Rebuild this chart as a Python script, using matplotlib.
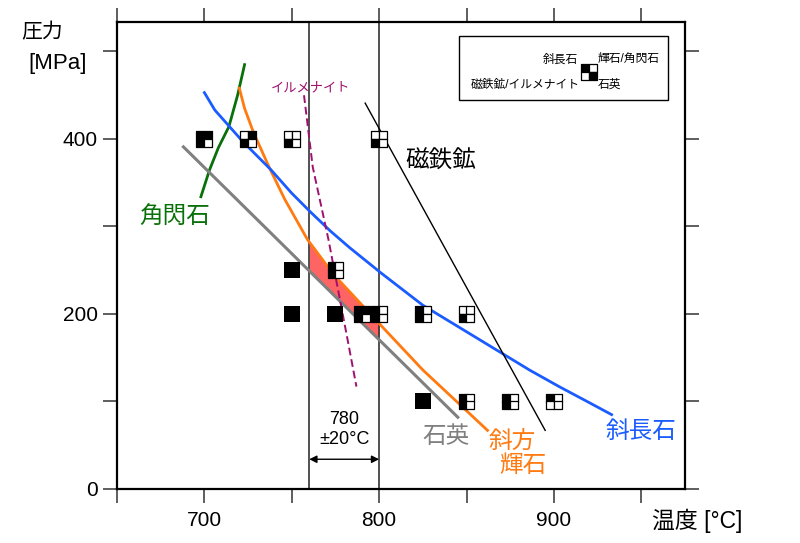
import matplotlib
matplotlib.use("Agg")
import matplotlib.pyplot as plt
import matplotlib.transforms as mtransforms
from matplotlib.patches import Rectangle
import numpy as np

plt.rcParams['font.family'] = ['Liberation Sans', 'Noto Sans CJK JP', 'DejaVu Sans']

# ---- data ----
# phase boundary curves (temperature degC, pressure MPa)
hbl_x = [698, 703, 708, 714, 719, 723]
hbl_y = [334, 365, 390, 414, 450, 485]
opx_x = [720, 723, 728, 737, 746, 759, 774, 801, 825, 862]
opx_y = [458, 435, 408, 368, 331, 285, 245, 187, 136, 67]
plag_x = [700, 706, 722, 738, 750, 761, 772, 783, 801, 825, 858, 886, 903, 919, 933]
plag_y = [453, 433, 397, 365, 338, 316, 295, 276, 247, 210, 170, 136, 117, 100, 85]
qtz_x = [688, 845]
qtz_y = [391, 82]
mt_x = [792, 895]
mt_y = [441, 67]
ilm_x = [757, 762, 771, 782, 787]
ilm_y = [450, 368, 285, 170, 117]

# experiments: T, P, and phases present [plag, px/hbl, mt/ilm, qtz]
exp_T = [700, 725, 750, 800, 750, 775, 750, 775, 790, 800, 825, 850, 825, 850, 875, 900]
exp_P = [400, 400, 400, 400, 250, 250, 200, 200, 200, 200, 200, 200, 100, 100, 100, 100]
exp_phases = [
    [1, 1, 1, 0], [0, 1, 1, 0], [0, 0, 1, 0], [0, 0, 1, 0],
    [1, 1, 1, 1], [1, 0, 1, 0],
    [1, 1, 1, 1], [1, 1, 1, 1], [1, 1, 1, 0], [1, 0, 1, 0], [1, 0, 1, 0], [0, 0, 1, 0],
    [1, 1, 1, 1], [1, 0, 1, 0], [1, 0, 1, 0], [1, 0, 0, 0],
]

T_range = [760, 800]
x_ticks = [650, 700, 750, 800, 850, 900, 950]
x_ticklabels = ['', '700', '', '800', '', '900', '']
y_ticks = [0, 100, 200, 300, 400, 500]
y_ticklabels = ['0', '', '200', '', '400', '']

# ---- figure ----
fig = plt.figure(figsize=(8.0, 5.43), dpi=100)
ax = fig.add_axes([117/800, 1-489/543, (685-117)/800, (489-22)/543])
ax.set_xlim(650, 975)
ax.set_ylim(0, 533.7)

for s in ax.spines.values():
    s.set_linewidth(1.6)
    s.set_color('black')
ax.set_xticks(x_ticks)
ax.set_xticklabels(x_ticklabels)
ax.set_yticks(y_ticks)
ax.set_yticklabels(y_ticklabels)
ax.tick_params(direction='out', length=10, width=1.1, color='#333333',
               top=True, right=True, labelsize=15, pad=6)
ax.tick_params(axis='y', pad=4)

# vertical range lines
for t in T_range:
    ax.axvline(t, color='#333333', lw=1.2, zorder=2)

# red area between quartz and opx curves in the range
xf = np.linspace(T_range[0], T_range[1], 60)
ax.fill_between(xf, np.interp(xf, qtz_x, qtz_y), np.interp(xf, opx_x, opx_y),
                color='#ff6464', lw=0, zorder=1)

ax.plot(hbl_x, hbl_y, color='#0a700a', lw=2, zorder=3)
ax.plot(opx_x, opx_y, color='#ff7a10', lw=2, zorder=3)
ax.plot(plag_x, plag_y, color='#1a5cff', lw=2, zorder=3)
ax.plot(qtz_x, qtz_y, color='#808080', lw=2.2, zorder=3)
ax.plot(mt_x, mt_y, color='black', lw=1.0, zorder=3)
ax.plot(ilm_x, ilm_y, color='#a0106e', lw=1.4, ls=(0, (4, 2)), zorder=3)

# experiment markers
cell = 5.7  # points
offs = [(-cell/2, cell/2), (cell/2, cell/2), (-cell/2, -cell/2), (cell/2, -cell/2)]


def draw_marker(x, y, phases, base):
    if all(phases):
        ax.scatter([x], [y], marker='s', s=(2*cell)**2, color='black',
                   transform=base, zorder=6, clip_on=False, linewidths=0)
        return
    for (dx, dy), p in zip(offs, phases):
        tr = mtransforms.offset_copy(base, fig=fig, x=dx, y=dy, units='points')
        ax.scatter([x], [y], marker='s', s=cell**2, facecolor='black' if p else 'white',
                   edgecolor='black', linewidths=0.9, transform=tr, zorder=6, clip_on=False)


for T, P, ph in zip(exp_T, exp_P, exp_phases):
    draw_marker(T, P, ph, ax.transData)

# legend box
ax.add_patch(Rectangle((0.602, 0.833), 0.368, 0.137, transform=ax.transAxes,
                       facecolor='white', edgecolor='black', lw=1.0, zorder=5))
draw_marker(0.831, 0.893, [1, 0, 0, 1], ax.transAxes)
lfs = 8.5
ax.text(0.812, 0.920, '斜長石', transform=ax.transAxes, ha='right', va='center', fontsize=lfs, zorder=7)
ax.text(0.847, 0.920, '輝石/角閃石', transform=ax.transAxes, ha='left', va='center', fontsize=lfs, zorder=7)
ax.text(0.815, 0.865, '磁鉄鉱/イルメナイト', transform=ax.transAxes, ha='right', va='center', fontsize=lfs, zorder=7)
ax.text(0.847, 0.865, '石英', transform=ax.transAxes, ha='left', va='center', fontsize=lfs, zorder=7)

# curve labels
big = 17
ax.text(760.5, 458, 'イルメナイト', color='#a0106e', fontsize=9.5, ha='center', va='center')
ax.text(835, 374, '磁鉄鉱', color='black', fontsize=big, ha='center', va='center')
ax.text(683, 311, '角閃石', color='#0a700a', fontsize=big, ha='center', va='center')
ax.text(838, 59, '石英', color='#808080', fontsize=big, ha='center', va='center')
ax.text(876, 54, '斜方', color='#ff7a10', fontsize=big, ha='center', va='center')
ax.text(882, 26, '輝石', color='#ff7a10', fontsize=big, ha='center', va='center')
ax.text(950, 65, '斜長石', color='#1a5cff', fontsize=big, ha='center', va='center')

# temperature range arrow
ax.annotate('', xy=(T_range[0], 34), xytext=(T_range[1], 34),
            arrowprops=dict(arrowstyle='<|-|>', color='black', lw=1.0,
                            mutation_scale=11, shrinkA=0, shrinkB=0))
ax.text(780, 79, '780', fontsize=13, ha='center', va='center')
ax.text(780, 56, '±20°C', fontsize=13, ha='center', va='center')

# axis titles
fig.text(42/800, 1-33/543, '圧力', fontsize=15, ha='center', va='center')
fig.text(58/800, 1-63/543, '[MPa]', fontsize=16, ha='center', va='center')
fig.text(697/800, 1-521/543, '温度 [°C]', fontsize=16.5, ha='center', va='center')

fig.savefig('out.png', dpi=100)
